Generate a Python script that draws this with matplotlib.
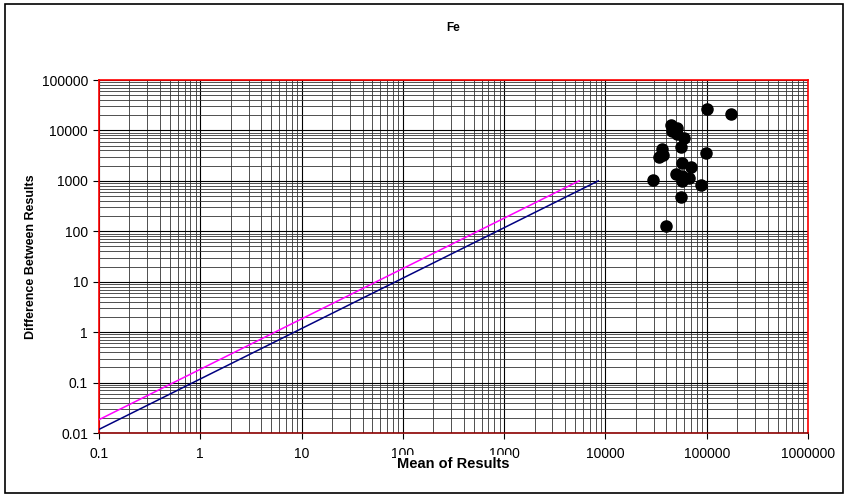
import numpy as np
import matplotlib
matplotlib.use('Agg')
import matplotlib.pyplot as plt
import matplotlib.patches as patches
from matplotlib.ticker import LogLocator, FixedLocator, FuncFormatter, NullFormatter

plt.rcParams['font.family'] = ['Liberation Sans', 'DejaVu Sans']

# sample pairs: mean of the two results vs their difference
mean_res = [100400, 171800, 44200, 50900, 45500, 50900, 59700, 55400, 36500,
            37100, 33900, 98900, 57500, 69500, 49800, 57500, 66800, 57500,
            29200, 87100, 55400, 39500]
diff_res = [26700, 21000, 12700, 11400, 9800, 8600, 7150, 4740, 4320,
            3250, 3000, 3650, 2290, 1850, 1390, 1270, 1160, 1010,
            1040, 841, 488, 130]

# limit lines
limit_x = [0.1, 8500]
limit_y = [0.0118, 1000]
limit2_x = [0.1, 5500]
limit2_y = [0.0184, 1000]

decades_x = [0.1, 1, 10, 100, 1000, 10000, 100000, 1000000]
decades_y = [0.01, 0.1, 1, 10, 100, 1000, 10000, 100000]

fig = plt.figure(figsize=(8.48, 4.98), dpi=100)
ax = fig.add_axes([99/848, 1-433/498, 709/848, 353/498])

# chart frame
fig.patches.append(patches.Rectangle((5/848, 5/498), 838/848, 489/498,
                                     transform=fig.transFigure, fill=False,
                                     edgecolor='black', linewidth=1.2))

ax.set_xscale('log')
ax.set_yscale('log')
ax.set_xlim(0.1, 1000000)
ax.set_ylim(0.01, 100000)

ax.plot(limit_x, limit_y, color='#000080', lw=1.1, zorder=3)
ax.plot(limit2_x, limit2_y, color='#FF00FF', lw=1.1, zorder=3)
ax.plot(mean_res, diff_res, 'o', color='black', markersize=8, zorder=4)

def fmt(v, pos):
    return '%d' % v if v >= 1 else ('%g' % v)

ax.xaxis.set_major_locator(FixedLocator(decades_x))
ax.yaxis.set_major_locator(FixedLocator(decades_y))
ax.xaxis.set_major_formatter(FuncFormatter(fmt))
ax.yaxis.set_major_formatter(FuncFormatter(fmt))
ax.xaxis.set_minor_locator(LogLocator(base=10, subs=np.arange(2, 10), numticks=20))
ax.yaxis.set_minor_locator(LogLocator(base=10, subs=np.arange(2, 10), numticks=20))
ax.xaxis.set_minor_formatter(NullFormatter())
ax.yaxis.set_minor_formatter(NullFormatter())

ax.grid(True, which='major', color='black', lw=0.8)
ax.grid(True, which='minor', color='#333333', lw=0.6)
ax.set_axisbelow(True)

ax.tick_params(which='major', direction='out', length=4, width=0.8, labelsize=10)
ax.tick_params(axis='x', which='major', pad=6)
ax.tick_params(axis='y', which='major', pad=4)
ax.tick_params(which='minor', length=0)

for side in ['left', 'right', 'top']:
    ax.spines[side].set_color('red')
    ax.spines[side].set_linewidth(1.2)
ax.spines['bottom'].set_color('#8B0000')
ax.spines['bottom'].set_linewidth(1.2)

ax.set_title('Fe', fontsize=8.5, fontweight='bold', pad=35)
# the axis title sits on a white box over the lower tick labels
ax.set_xlabel('Mean of Results', fontsize=10.5, fontweight='bold', labelpad=-3,
              bbox=dict(facecolor='white', edgecolor='none', pad=1))
ax.set_ylabel('Difference Between Results', fontsize=9, fontweight='bold', labelpad=3)

fig.savefig('out.png', dpi=100)
